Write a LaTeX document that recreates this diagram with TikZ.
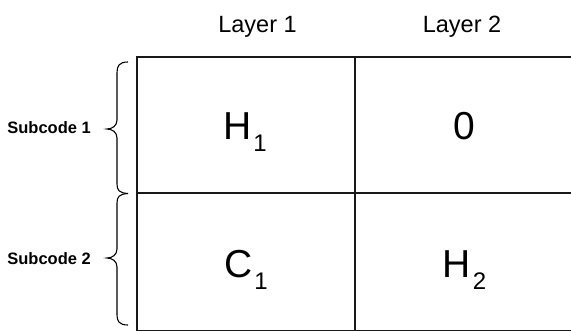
\documentclass[tikz,border=0pt]{standalone}
\usepackage{fontspec}
\setmainfont{Liberation Sans}
\begin{document}
\begin{tikzpicture}[x=1bp,y=-1bp,
  gridline/.style={line width=1.5bp,draw=black!90},
  bracel/.style={line width=1.1bp,draw=black},
  headtxt/.style={anchor=base,inner sep=0pt,font=\fontsize{23.5bp}{28bp}\selectfont},
  celltxt/.style={anchor=base,inner sep=0pt,font=\fontsize{39bp}{44bp}\selectfont},
  subtxt/.style={anchor=base east,inner sep=0pt,font=\fontsize{16.5bp}{19bp}\selectfont\bfseries}]
\useasboundingbox (0,0) rectangle (571,330);
% grid
\draw[gridline] (137,57) rectangle (573.5,331.2);
\draw[gridline] (137,193) -- (573.5,193);
\draw[gridline] (355,57) -- (355,331.2);
% headers
\node[headtxt] (l1) at (257.5,32) {Layer 1};
\node[headtxt] (l2) at (462,32) {Layer 2};
% cells
\newcommand{\cellsub}[2]{#1\hspace{2bp}\raisebox{-12bp}{\fontsize{24bp}{26bp}\selectfont #2}}
\node[celltxt] (h1) at (245,139.5) {\cellsub{H}{1}};
\node[celltxt] (z0) at (464,139.5) {0};
\node[celltxt] (c1) at (246,277) {\cellsub{C}{1}};
\node[celltxt] (h2) at (464.5,277) {\cellsub{H}{2}};
% row labels
\node[subtxt] (s1) at (91,133.5) {Subcode 1};
\node[subtxt] (s2) at (91,264) {Subcode 2};
% braces
\draw[bracel] (128,62) .. controls (119,62) and (117,66) .. (117,73)
  -- (117,120) .. controls (117,126) and (112,129) .. (107,129)
  .. controls (112,129) and (117,132) .. (117,138)
  -- (117,184) .. controls (117,190) and (119,193) .. (128,193.5);
\draw[bracel] (128,193.5) .. controls (119,194) and (117,197) .. (117,203)
  -- (117,249) .. controls (117,255) and (112,258) .. (107,258)
  .. controls (112,258) and (117,261) .. (117,267)
  -- (117,315) .. controls (117,321) and (119,325) .. (128,325);
\end{tikzpicture}
\end{document}
